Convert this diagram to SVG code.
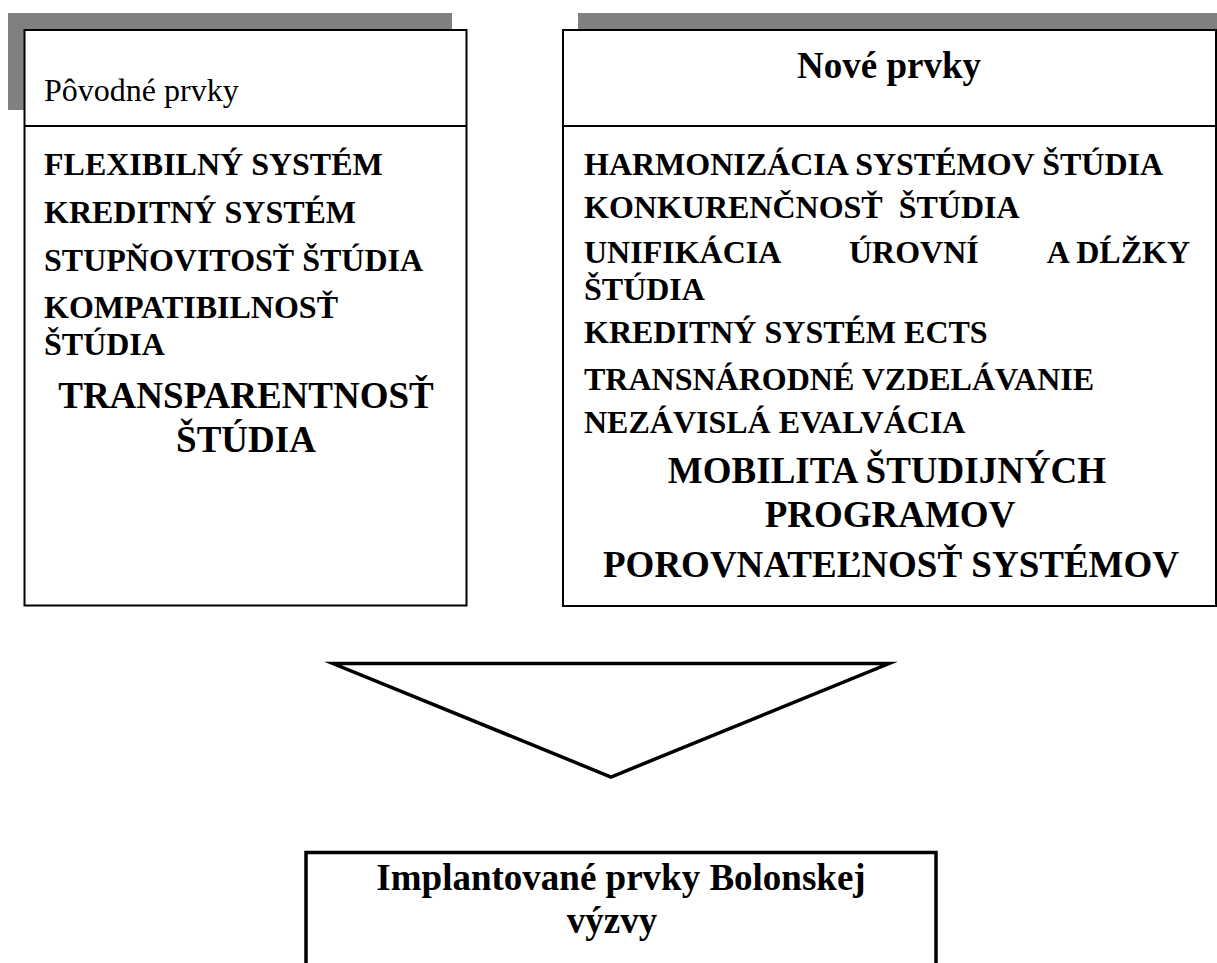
<svg xmlns="http://www.w3.org/2000/svg" width="1217" height="963" viewBox="0 0 1217 963">
<style>
.shadow{fill:#808080;stroke:none}
.box{fill:#ffffff;stroke:#000000;stroke-width:2}
.div{stroke:#000000;stroke-width:2}
.t{font-family:"Liberation Serif","Times New Roman",serif;fill:#000000}
.reg{font-size:32px;font-weight:normal}
.item{font-size:32px;font-weight:bold}
.big{font-size:37px;font-weight:bold;text-anchor:middle}
.arrow{fill:#ffffff;stroke:#000000;stroke-width:3.5;stroke-miterlimit:10}
.box2{fill:#ffffff;stroke:#000000;stroke-width:3.5}
</style>
<rect width="1217" height="963" fill="#ffffff"/>
<g id="node-povodne-prvky">
<rect class="shadow" x="8" y="13" width="444" height="97"/>
<rect class="box" x="24.5" y="30" width="442" height="575.5"/>
<line class="div" x1="24.5" y1="126" x2="466.5" y2="126"/>
<text class="t reg" x="44" y="101">Pôvodné prvky</text>
<text class="t item" x="44" y="175">FLEXIBILNÝ SYSTÉM</text>
<text class="t item" x="44" y="223">KREDITNÝ SYSTÉM</text>
<text class="t item" x="44" y="271">STUPŇOVITOSŤ ŠTÚDIA</text>
<text class="t item" x="44" y="318">KOMPATIBILNOSŤ</text>
<text class="t item" x="44" y="355">ŠTÚDIA</text>
<text class="t big" x="246" y="408">TRANSPARENTNOSŤ</text>
<text class="t big" x="246" y="452">ŠTÚDIA</text>
</g>
<g id="node-nove-prvky">
<rect class="shadow" x="578" y="13" width="660" height="97"/>
<rect class="box" x="563" y="30" width="653" height="576"/>
<line class="div" x1="563" y1="126" x2="1216" y2="126"/>
<text class="t big" x="889" y="78">Nové prvky</text>
<text class="t item" x="584" y="175">HARMONIZÁCIA SYSTÉMOV ŠTÚDIA</text>
<text class="t item" x="584" y="218" style="white-space:pre">KONKURENČNOSŤ  ŠTÚDIA</text>
<text class="t item" y="263"><tspan x="584">UNIFIKÁCIA</tspan> <tspan x="849">ÚROVNÍ</tspan> <tspan x="1190" text-anchor="end">A DĹŽKY</tspan></text>
<text class="t item" x="584" y="300">ŠTÚDIA</text>
<text class="t item" x="584" y="343">KREDITNÝ SYSTÉM ECTS</text>
<text class="t item" x="584" y="390">TRANSNÁRODNÉ VZDELÁVANIE</text>
<text class="t item" x="584" y="433">NEZÁVISLÁ EVALVÁCIA</text>
<text class="t big" x="887" y="483">MOBILITA ŠTUDIJNÝCH</text>
<text class="t big" x="890" y="527">PROGRAMOV</text>
<text class="t big" x="891" y="577">POROVNATEĽNOSŤ SYSTÉMOV</text>
</g>
<g id="connectors">
<polygon class="arrow" points="333,663.5 889,663.5 611,777"/>
</g>
<g id="node-implantovane-prvky">
<rect class="box2" x="306" y="852.5" width="630" height="140"/>
<text class="t big" x="621" y="890">Implantované prvky Bolonskej</text>
<text class="t big" x="612" y="933">výzvy</text>
</g>
</svg>
